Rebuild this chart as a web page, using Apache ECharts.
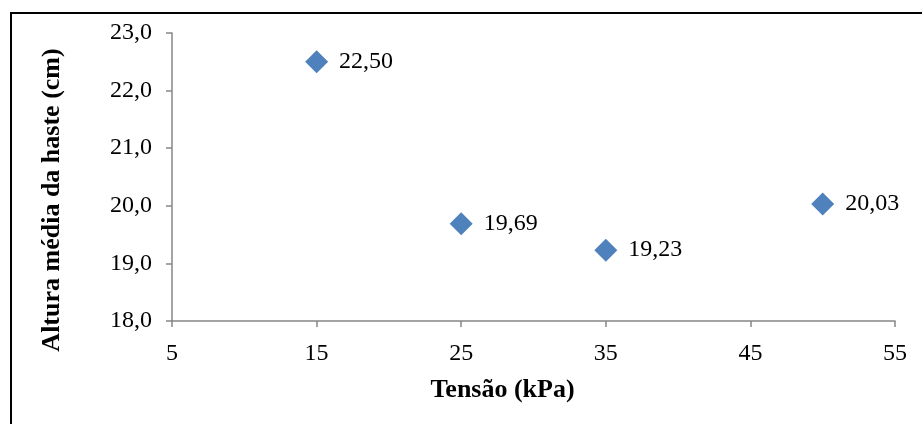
<!DOCTYPE html>
<html>
<head>
<meta charset="utf-8">
<script src="https://cdn.jsdelivr.net/npm/echarts@6/dist/echarts.min.js"></script>
<style>
  html, body { margin: 0; padding: 0; background: #fff; }
  #chart { width: 922px; height: 424px; }
</style>
</head>
<body>
<div id="chart"></div>
<script>
// Tensão aplicada (kPa) e altura média da haste (cm)
const tensao = [15, 25, 35, 50];
const altura = [22.50, 19.69, 19.23, 20.03];

const xTicks = { min: 5, max: 55, interval: 10 };
const yTicks = { min: 18, max: 23, interval: 1 };

const serif = '"Liberation Serif", "Times New Roman", serif';
const axisGray = '#868686';

const chart = echarts.init(document.getElementById('chart'), null, { renderer: 'canvas' });

chart.setOption({
  animation: false,
  backgroundColor: '#ffffff',
  grid: { left: 172, top: 33, right: 27, bottom: 103 },
  xAxis: {
    type: 'value',
    min: xTicks.min, max: xTicks.max, interval: xTicks.interval,
    name: 'Tensão (kPa)',
    nameLocation: 'middle',
    nameGap: 56,
    nameTextStyle: {
      fontFamily: serif, fontSize: 26, fontWeight: 'bold', color: '#000',
      padding: [0, 62, 0, 0]
    },
    axisLine: { show: true, onZero: false, lineStyle: { color: axisGray, width: 1.5 } },
    axisTick: { show: true, length: 6, lineStyle: { color: axisGray, width: 1.5 } },
    axisLabel: { fontFamily: serif, fontSize: 24, color: '#000', margin: 21 },
    splitLine: { show: false }
  },
  yAxis: {
    type: 'value',
    min: yTicks.min, max: yTicks.max, interval: yTicks.interval,
    name: 'Altura média da haste (cm)',
    nameLocation: 'middle',
    nameGap: 107,
    nameTextStyle: {
      fontFamily: serif, fontSize: 26, fontWeight: 'bold', color: '#000',
      padding: [0, 46, 0, 0]
    },
    axisLine: { show: true, lineStyle: { color: axisGray, width: 1.5 } },
    axisTick: { show: true, length: 6, lineStyle: { color: axisGray, width: 1.5 } },
    axisLabel: {
      fontFamily: serif, fontSize: 24, color: '#000', margin: 20,
      formatter: v => v.toFixed(1).replace('.', ',')
    },
    splitLine: { show: false }
  },
  series: [{
    type: 'scatter',
    symbol: 'diamond',
    symbolSize: 23,
    itemStyle: { color: '#4F81BD', opacity: 1 },
    label: {
      show: true,
      position: 'right',
      distance: 11,
      fontFamily: serif,
      fontSize: 24,
      color: '#000',
      formatter: p => p.value[1].toFixed(2).replace('.', ',')
    },
    data: tensao.map((t, i) => [t, altura[i]])
  }],
  graphic: [
    // moldura do gráfico (borda superior e esquerda)
    {
      type: 'polyline',
      shape: { points: [[11, 424], [11, 13], [922, 13]] },
      style: { stroke: '#000', lineWidth: 2, fill: null },
      silent: true
    }
  ]
});
</script>
</body>
</html>
